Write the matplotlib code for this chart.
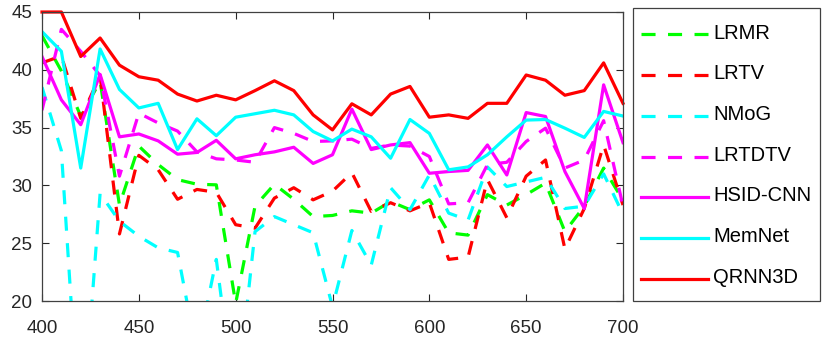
import matplotlib
matplotlib.use('Agg')
import matplotlib.pyplot as plt
import numpy as np

plt.rcParams['font.family'] = ['Liberation Sans', 'DejaVu Sans']

# wavelength (nm), one sample every 10 nm
bands = np.arange(400, 701, 10)

lrmr = [42.95, 39.9, 36.0, 39.0, 28.3, 33.4, 31.8, 30.5, 30.1, 30.05, 19.8,
        28.2, 30.1, 28.8, 27.3, 27.4, 27.8, 27.6, 28.6, 27.9, 28.75, 25.9,
        25.7, 29.2, 28.3, 29.2, 30.2, 26.0, 28.2, 31.5, 28.7]
lrtv = [40.6, 41.2, 35.8, 39.5, 25.8, 32.6, 31.35, 28.8, 29.65, 29.4, 26.6,
        26.3, 28.9, 29.8, 28.75, 29.5, 31.1, 27.75, 28.5, 27.8, 28.5, 23.6,
        23.8, 30.5, 27.2, 30.8, 32.2, 24.5, 28.0, 33.5, 28.3]
nmog = [38.5, 33.0, 7.0, 29.3, 26.9, 25.6, 24.6, 24.2, 15.4, 23.6, 10.6,
        26.0, 27.3, 26.6, 25.9, 19.5, 26.1, 23.1, 29.8, 27.9, 30.9, 27.6,
        27.0, 31.6, 29.9, 30.3, 30.7, 28.0, 28.2, 31.0, 27.5]
lrtdtv = [36.5, 43.5, 41.6, 39.5, 30.8, 36.25, 35.4, 34.7, 32.9, 32.3, 32.2,
          32.0, 35.0, 34.5, 33.8, 33.85, 34.0, 33.2, 33.5, 33.4, 32.5, 28.4,
          28.5, 31.8, 32.0, 33.8, 34.95, 31.5, 32.2, 35.6, 28.2]
hsid = [41.15, 37.4, 35.25, 39.6, 34.2, 34.45, 33.85, 32.7, 32.85, 33.9, 32.3,
        32.65, 32.9, 33.3, 31.9, 32.65, 36.6, 33.1, 33.5, 33.7, 31.05, 31.2,
        31.3, 33.5, 30.9, 36.3, 35.96, 31.2, 28.0, 38.7, 33.7]
memnet = [43.3, 41.6, 31.5, 41.8, 38.3, 36.7, 37.1, 33.1, 35.76, 34.3, 35.9,
          36.2, 36.5, 36.1, 34.66, 33.85, 34.87, 34.2, 32.35, 35.7, 34.5, 31.35,
          31.6, 32.65, 34.2, 35.65, 35.7, 34.95, 34.15, 36.4, 36.0]
qrnn3d = [45.0, 45.0, 41.15, 42.75, 40.4, 39.4, 39.1, 37.9, 37.3, 37.8, 37.4,
          38.2, 39.05, 38.2, 36.1, 34.8, 37.06, 36.1, 37.9, 38.56, 35.9, 36.1,
          35.8, 37.1, 37.1, 39.55, 39.1, 37.8, 38.2, 40.6, 37.1]

series = [
    ('LRMR', lrmr, '#00ff00', '--'),
    ('LRTV', lrtv, '#ff0000', '--'),
    ('NMoG', nmog, '#00ffff', '--'),
    ('LRTDTV', lrtdtv, '#ff00ff', '--'),
    ('HSID-CNN', hsid, '#ff00ff', '-'),
    ('MemNet', memnet, '#00ffff', '-'),
    ('QRNN3D', qrnn3d, '#ff0000', '-'),
]

fig = plt.figure(figsize=(8.3, 3.39), dpi=100)
ax = fig.add_axes([42 / 830, 1 - 301 / 339, 581 / 830, 289 / 339])

for name, vals, color, ls in series:
    line, = ax.plot(bands, vals, color=color, linestyle=ls, linewidth=2.3,
                    label=name)
    if ls == '--':
        line.set_dashes((4.4, 3.9))
    if name == 'QRNN3D':
        line.set_clip_on(False)

ax.set_xlim(400, 700)
ax.set_ylim(20, 45)
ax.set_xticks(np.arange(400, 701, 50))
ax.set_yticks(np.arange(20, 46, 5))
ax.tick_params(direction='in', length=5, width=0.8, top=True, right=True,
               labelsize=13.5, colors='#262626')
ax.tick_params(axis='x', pad=14)
ax.tick_params(axis='y', pad=7)
for s in ax.spines.values():
    s.set_color('#404040')
    s.set_linewidth(0.9)

leg = fig.legend(loc='upper left', bbox_to_anchor=(633 / 830, 1 - 8 / 339),
                 fontsize=14.5, handlelength=3.3, handletextpad=0.25,
                 handleheight=2.04, labelspacing=0.45, borderpad=0.42,
                 borderaxespad=0, fancybox=False, framealpha=1)
leg.get_frame().set_edgecolor('#404040')
leg.get_frame().set_linewidth(0.9)
# tall rows push the handle lines above the text; bring them back in line
for h in leg.get_lines():
    h.set_ydata(np.asarray(h.get_ydata()) - 5)

fig.savefig('out.png', dpi=100)
